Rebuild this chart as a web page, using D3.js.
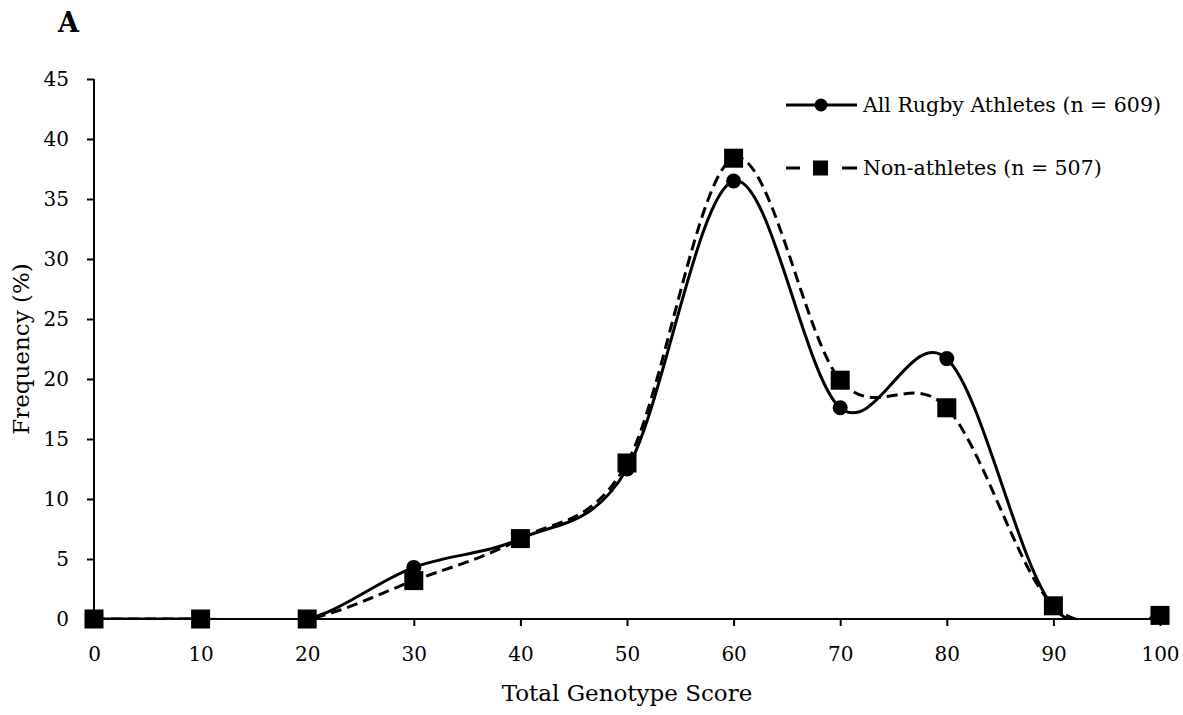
<!DOCTYPE html>
<html>
<head>
<meta charset="utf-8">
<script src="https://cdn.jsdelivr.net/npm/d3@7"></script>
<style>
  body { margin: 0; background: #fff; }
  text { font-family: "DejaVu Serif", "Liberation Serif", serif; fill: #000; }
</style>
</head>
<body>
<div id="chart"></div>
<script>
// chart data
const scores = [0, 10, 20, 30, 40, 50, 60, 70, 80, 90, 100];
const rugby = [0, 0, 0, 4.3, 6.7, 12.5, 36.5, 17.6, 21.7, 1.0, 0.3];
const nonAthletes = [0, 0, 0, 3.2, 6.7, 13.0, 38.4, 19.9, 17.6, 1.1, 0.3];
const yTicks = [0, 5, 10, 15, 20, 25, 30, 35, 40, 45];
const xTicks = [0, 10, 20, 30, 40, 50, 60, 70, 80, 90, 100];
const seriesNames = ["All Rugby Athletes (n = 609)", "Non-athletes (n = 507)"];

const width = 1183, height = 715;
const margin = { top: 79, right: 23, bottom: 96, left: 94 };

const svg = d3.select("#chart").append("svg")
  .attr("width", width)
  .attr("height", height);

const x = d3.scaleLinear().domain([0, 100]).range([margin.left, width - margin.right]);
const y = d3.scaleLinear().domain([0, 45]).range([height - margin.bottom, margin.top]);

// clip lines to the plot area (excel hides the dip below zero)
svg.append("clipPath").attr("id", "plot-clip")
  .append("rect")
  .attr("x", x(0))
  .attr("y", y(45))
  .attr("width", x(100) - x(0))
  .attr("height", y(0) - y(45));

// axes
const xAxis = svg.append("g")
  .attr("transform", `translate(0,${y(0)})`)
  .call(d3.axisBottom(x).tickValues(xTicks).tickSize(7).tickPadding(21));
const yAxis = svg.append("g")
  .attr("transform", `translate(${x(0)},0)`)
  .call(d3.axisLeft(y).tickValues(yTicks).tickSize(7).tickPadding(18));

[xAxis, yAxis].forEach((g) => {
  g.select(".domain").attr("stroke", "#000").attr("stroke-width", 2);
  g.selectAll(".tick line").attr("stroke", "#000").attr("stroke-width", 2);
  g.selectAll(".tick text").attr("font-size", 20).attr("font-family", null);
});
// plain axis lines, no end caps
yAxis.select(".domain").attr("d", `M0,${y(45)}V${y(0)}`);
xAxis.select(".domain").attr("d", `M${x(0)},0H${x(100)}`);

// axis titles
svg.append("text")
  .attr("x", (x(0) + x(100)) / 2)
  .attr("y", 701)
  .attr("text-anchor", "middle")
  .attr("font-size", 23)
  .text("Total Genotype Score");

svg.append("text")
  .attr("transform", `translate(29,${(y(0) + y(45)) / 2}) rotate(-90)`)
  .attr("text-anchor", "middle")
  .attr("font-size", 23)
  .text("Frequency (%)");

svg.append("text")
  .attr("x", 58)
  .attr("y", 32)
  .attr("font-size", 27)
  .attr("font-weight", "bold")
  .text("A");

// lines
const line = d3.line()
  .x((d) => x(d[0]))
  .y((d) => y(d[1]))
  .curve(d3.curveCardinal.tension(0));

const rugbyPts = scores.map((s, i) => [s, rugby[i]]);
const nonPts = scores.map((s, i) => [s, nonAthletes[i]]);

const lines = svg.append("g").attr("clip-path", "url(#plot-clip)");
lines.append("path")
  .datum(nonPts)
  .attr("fill", "none")
  .attr("stroke", "#000")
  .attr("stroke-width", 3)
  .attr("stroke-dasharray", "11,6")
  .attr("d", line);
lines.append("path")
  .datum(rugbyPts)
  .attr("fill", "none")
  .attr("stroke", "#000")
  .attr("stroke-width", 3)
  .attr("d", line);

// markers
svg.append("g")
  .selectAll("circle")
  .data(rugbyPts)
  .join("circle")
  .attr("cx", (d) => x(d[0]))
  .attr("cy", (d) => y(d[1]))
  .attr("r", 7.5)
  .attr("fill", "#000");

const sq = 19;
svg.append("g")
  .selectAll("rect")
  .data(nonPts)
  .join("rect")
  .attr("x", (d) => x(d[0]) - sq / 2)
  .attr("y", (d) => y(d[1]) - sq / 2)
  .attr("width", sq)
  .attr("height", sq)
  .attr("fill", "#000");

// legend
const legend = svg.append("g");
const ly1 = 105, ly2 = 168;
legend.append("line")
  .attr("x1", 786).attr("x2", 857)
  .attr("y1", ly1).attr("y2", ly1)
  .attr("stroke", "#000").attr("stroke-width", 3);
legend.append("circle")
  .attr("cx", 821).attr("cy", ly1).attr("r", 6.5).attr("fill", "#000");
[[786, 800], [842, 857]].forEach(([a, b]) => {
  legend.append("line")
    .attr("x1", a).attr("x2", b)
    .attr("y1", ly2).attr("y2", ly2)
    .attr("stroke", "#000").attr("stroke-width", 3);
});
legend.append("rect")
  .attr("x", 813).attr("y", ly2 - 7.5).attr("width", 15).attr("height", 15)
  .attr("fill", "#000");
legend.selectAll("text.leg")
  .data(seriesNames)
  .join("text")
  .attr("class", "leg")
  .attr("x", 863)
  .attr("y", (d, i) => (i === 0 ? ly1 : ly2) + 7)
  .attr("font-size", 20.5)
  .text((d) => d);
</script>
</body>
</html>
